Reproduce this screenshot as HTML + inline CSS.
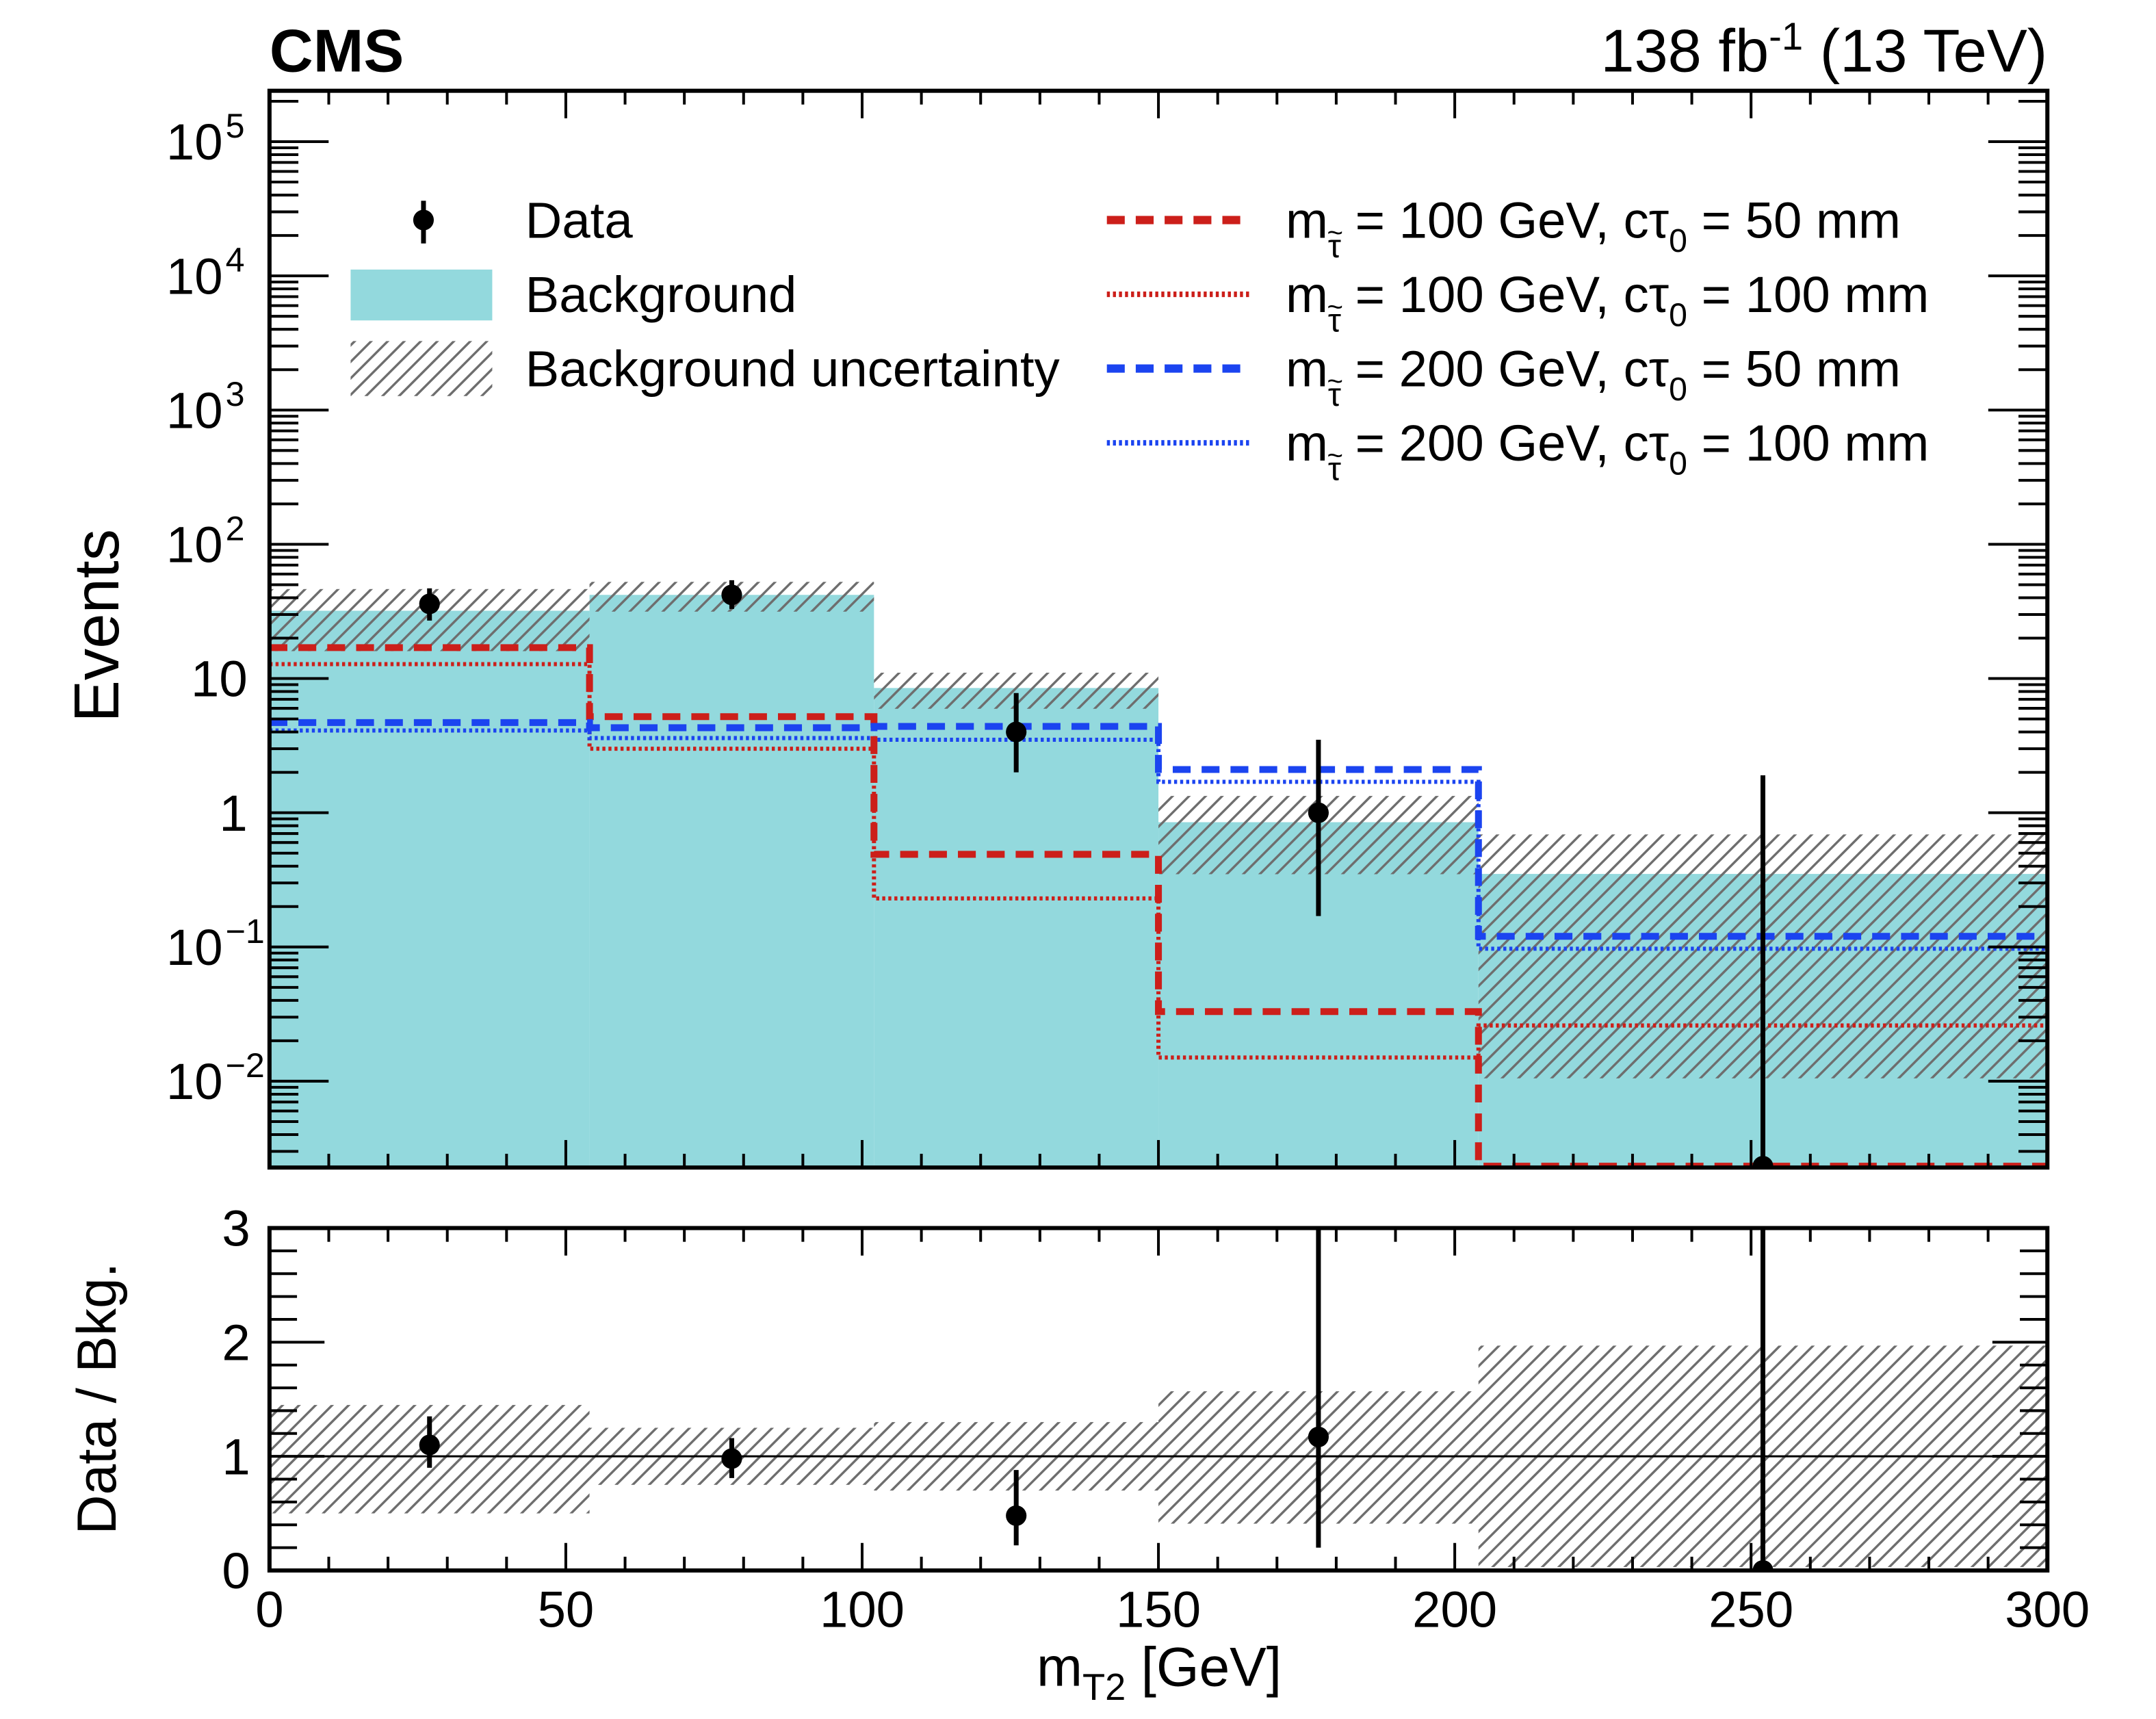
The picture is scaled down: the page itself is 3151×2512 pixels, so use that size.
<!DOCTYPE html>
<html><head><meta charset="utf-8"><style>
html,body{margin:0;padding:0;background:#fff;}
svg{display:block;font-family:"Liberation Sans",Arial,sans-serif;}
</style></head><body>
<svg id="chart" width="3151" height="2512" viewBox="0 0 1568 1250" xmlns="http://www.w3.org/2000/svg">
<defs>
<pattern id="hatch" patternUnits="userSpaceOnUse" width="8.5" height="8.5" patternTransform="rotate(45)">
<line x1="0" y1="0" x2="0" y2="8.5" stroke="#6e6e6e" stroke-width="3.4"/>
</pattern>
<clipPath id="clipMain"><rect x="196" y="66" width="1293" height="783"/></clipPath>
<clipPath id="clipRatio"><rect x="196" y="893" width="1293" height="249"/></clipPath>
</defs>
<g id="main" clip-path="url(#clipMain)"></g>
<g id="ratio" clip-path="url(#clipRatio)"></g>
<g id="axes"></g>
<g id="legend"></g>
<text x="196" y="52" font-size="44" font-weight="bold">CMS</text>
<text x="1489" y="52" font-size="44" text-anchor="end">138 fb<tspan dy="-16" font-size="28">-1</tspan><tspan dy="16"> (13 TeV)</tspan></text>
<text transform="translate(86,455) rotate(-90)" font-size="46" text-anchor="middle">Events</text>
<text transform="translate(84,1017) rotate(-90)" font-size="40" text-anchor="middle">Data / Bkg.</text>
<text x="843" y="1226" font-size="40" text-anchor="middle">m<tspan dy="10" font-size="27">T2</tspan><tspan dy="-10"> [GeV]</tspan></text>
</svg>
<script>
const binEdges = [0, 54, 102, 150, 204, 300];
const bkg = [32, 42, 8.5, 0.85, 0.35];
const uncLow = [0.5, 0.75, 0.7, 0.41, 0.03];
const uncHigh = [1.45, 1.25, 1.3, 1.57, 1.97];
const dataX = [27, 78, 126, 177, 252];
const dataY = [36, 42, 4, 1, 0];
const dataErrLo = [9, 9, 2, 0.83, 0];
const dataErrHi = [11, 12, 3.8, 2.5, 1.9];
const ratioY = [1.1, 0.98, 0.48, 1.17, 0];
const ratioErrLo = [0.2, 0.17, 0.26, 0.97, 0];
const ratioErrHi = [0.25, 0.18, 0.4, 3, 3];
const sigRed50 = [17, 5.2, 0.49, 0.033, 0.0001];
const sigRed100 = [12.8, 3.0, 0.23, 0.015, 0.026];
const sigBlue50 = [4.7, 4.3, 4.4, 2.1, 0.12];
const sigBlue100 = [4.1, 3.6, 3.5, 1.7, 0.097];
const xTicks = [0, 50, 100, 150, 200, 250, 300];
const ratioTicks = [0, 1, 2, 3];

const NS = "http://www.w3.org/2000/svg";
const X0 = 196, X1 = 1489, MY0 = 66, MY1 = 849, RY0 = 893, RY1 = 1142;
const yOne = 591, dec = 97.6;
const LOGMIN = Math.log10(0.0023);
function xs(v){ return X0 + (v - 0) / 300 * (X1 - X0); }
function ys(v){ let l = v > 0 ? Math.log10(v) : -10; l = Math.max(l, LOGMIN + 0.005); return yOne - l * dec; }
function yr(v){ return RY1 - v / 3 * (RY1 - RY0); }
function mk(tag, attrs, parent){ const e = document.createElementNS(NS, tag); for (const k in attrs) e.setAttribute(k, attrs[k]); parent.appendChild(e); return e; }
const main = document.getElementById('main'), ratio = document.getElementById('ratio'), axes = document.getElementById('axes'), legend = document.getElementById('legend');

for (let i = 0; i < bkg.length; i++) {
  const r = mk('rect', {x: xs(binEdges[i]), y: ys(bkg[i]), width: xs(binEdges[i+1]) - xs(binEdges[i]), height: MY1 - ys(bkg[i]) + 2, fill: '#93d9dd'}, main);
  
  
}
for (let i = 0; i < bkg.length; i++) {
  const hi = bkg[i] * uncHigh[i], lo = bkg[i] * uncLow[i];
  const r = mk('rect', {x: xs(binEdges[i]), y: ys(hi), width: xs(binEdges[i+1]) - xs(binEdges[i]), height: ys(lo) - ys(hi), fill: 'url(#hatch)'}, main);
  
  
  const r2 = mk('rect', {x: xs(binEdges[i]), y: yr(uncHigh[i]), width: xs(binEdges[i+1]) - xs(binEdges[i]), height: yr(uncLow[i]) - yr(uncHigh[i]), fill: 'url(#hatch)'}, ratio);
  
  
}
function stepPath(vals){
  let d = '';
  for (let i = 0; i < vals.length; i++) {
    const y = ys(vals[i]);
    d += (i === 0 ? 'M' : 'L') + xs(binEdges[i]) + ',' + y + ' L' + xs(binEdges[i+1]) + ',' + y + ' ';
  }
  return d;
}
const sigs = [
  [sigRed100, '#cc1f1a', 3, '2.2,2.2', 'signal-100gev-100mm'],
  [sigBlue100, '#1b44f0', 3, '2.2,2.2', 'signal-200gev-100mm'],
  [sigRed50, '#cc1f1a', 5, '13,8', 'signal-100gev-50mm'],
  [sigBlue50, '#1b44f0', 5, '13,8', 'signal-200gev-50mm']
];
for (const s of sigs) {
  const p = mk('path', {d: stepPath(s[0]), fill: 'none', stroke: s[1], 'stroke-width': s[2], 'stroke-dasharray': s[3]}, main);
  
  
}
for (let i = 0; i < dataX.length; i++) {
  const x = xs(dataX[i]);
  const g = mk('g', {}, main);
  
  
  const yc = ys(dataY[i]);
  const ylo = dataY[i] - dataErrLo[i] > 0 ? ys(dataY[i] - dataErrLo[i]) : MY1;
  mk('line', {x1: x, x2: x, y1: ys(dataY[i] + dataErrHi[i]), y2: ylo, stroke: '#000', 'stroke-width': 3.5}, g);
  mk('circle', {cx: x, cy: yc, r: 7.5, fill: '#000'}, g);
  const g2 = mk('g', {}, ratio);
  
  
  mk('line', {x1: x, x2: x, y1: yr(ratioY[i] + ratioErrHi[i]), y2: yr(Math.max(0, ratioY[i] - ratioErrLo[i])), stroke: '#000', 'stroke-width': 3.5}, g2);
  mk('circle', {cx: x, cy: yr(ratioY[i]), r: 7.5, fill: '#000'}, g2);
}
const ref = mk('line', {x1: X0, x2: X1, y1: yr(1), y2: yr(1), stroke: '#000', 'stroke-width': 1.5}, ratio);



const f1 = mk('rect', {x: X0, y: MY0, width: X1 - X0, height: MY1 - MY0, fill: 'none', stroke: '#000', 'stroke-width': 3}, axes);


const f2 = mk('rect', {x: X0, y: RY0, width: X1 - X0, height: RY1 - RY0, fill: 'none', stroke: '#000', 'stroke-width': 3}, axes);


for (let v = 0; v <= 300; v += 10) {
  const x = xs(v), major = v % 50 === 0, L = major ? 20 : 10;
  for (const [yb, yt] of [[MY1, MY0], [RY1, RY0]]) {
    mk('line', {x1: x, x2: x, y1: yb, y2: yb - L, stroke: '#000', 'stroke-width': 2}, axes);
    mk('line', {x1: x, x2: x, y1: yt, y2: yt + L, stroke: '#000', 'stroke-width': 2}, axes);
  }
}
for (const v of xTicks) {
  const t = mk('text', {x: xs(v), y: 1183, 'font-size': 37, 'text-anchor': 'middle'}, axes);
  
  
  t.textContent = String(v);
}
for (let e = -3; e <= 5; e++) {
  for (let m = 1; m <= 9; m++) {
    const v = m * Math.pow(10, e), y = yOne - Math.log10(v) * dec;
    if (y < MY0 || y > MY1) continue;
    const L = m === 1 ? 43 : 21;
    mk('line', {x1: X0, x2: X0 + L, y1: y, y2: y, stroke: '#000', 'stroke-width': 2}, axes);
    mk('line', {x1: X1, x2: X1 - L, y1: y, y2: y, stroke: '#000', 'stroke-width': 2}, axes);
  }
}
const yLabels = [[5,'10','5'],[4,'10','4'],[3,'10','3'],[2,'10','2'],[1,'10',''],[0,'1',''],[-1,'10','\u22121'],[-2,'10','\u22122']];
for (const [e, base, sup] of yLabels) {
  const y = yOne - e * dec + 13;
  const t = mk('text', {x: sup ? 162 : 180, y: y, 'font-size': 37, 'text-anchor': 'end'}, axes);
  
  
  t.textContent = base;
  if (sup) {
    const s = mk('text', {x: 164, y: y - 16, 'font-size': 25}, axes);
    
    
    s.textContent = sup;
  }
}
for (let v = 0; v <= 3.001; v += 0.2) {
  const y = yr(v), major = Math.abs(v - Math.round(v)) < 0.01, L = major ? 40 : 20;
  mk('line', {x1: X0, x2: X0 + L, y1: y, y2: y, stroke: '#000', 'stroke-width': 2}, axes);
  mk('line', {x1: X1, x2: X1 - L, y1: y, y2: y, stroke: '#000', 'stroke-width': 2}, axes);
}
for (const v of ratioTicks) {
  const t = mk('text', {x: 182, y: yr(v) + 13, 'font-size': 37, 'text-anchor': 'end'}, axes);
  
  
  t.textContent = String(v);
}
let g = mk('g', {}, legend);


mk('line', {x1: 308, x2: 308, y1: 146, y2: 177, stroke: '#000', 'stroke-width': 3.5}, g);
mk('circle', {cx: 308, cy: 160, r: 7.5}, g);
mk('text', {x: 382, y: 173, 'font-size': 37}, g).textContent = 'Data';
g = mk('g', {}, legend);


mk('rect', {x: 255, y: 196, width: 103, height: 37, fill: '#93d9dd'}, g);
mk('text', {x: 382, y: 227, 'font-size': 37}, g).textContent = 'Background';
g = mk('g', {}, legend);


mk('rect', {x: 255, y: 248, width: 103, height: 40, fill: 'url(#hatch)'}, g);
mk('text', {x: 382, y: 281, 'font-size': 37}, g).textContent = 'Background uncertainty';
const legSig = [
  ['#cc1f1a', 6, '13,8', '100', '50', 'legend-signal-100gev-50mm'],
  ['#cc1f1a', 4, '2.2,2.2', '100', '100', 'legend-signal-100gev-100mm'],
  ['#1b44f0', 6, '13,8', '200', '50', 'legend-signal-200gev-50mm'],
  ['#1b44f0', 4, '2.2,2.2', '200', '100', 'legend-signal-200gev-100mm']
];
legSig.forEach((s, i) => {
  const y = 160 + i * 54;
  const gg = mk('g', {}, legend);
  
  
  mk('line', {x1: 805, x2: 910, y1: y, y2: y, stroke: s[0], 'stroke-width': s[1], 'stroke-dasharray': s[2]}, gg);
  const t = mk('text', {x: 935, y: y + 13, 'font-size': 37}, gg);
  t.innerHTML = 'm<tspan dy="14" font-size="24">\u03C4</tspan><tspan dy="-14"> = ' + s[3] + ' GeV, c\u03C4</tspan><tspan dy="10" font-size="24">0</tspan><tspan dy="-10"> = ' + s[4] + ' mm</tspan>';
  const tl = mk('text', {x: 971, y: y + 16, 'font-size': 20, 'text-anchor': 'middle'}, gg);
  tl.textContent = '~';
});
</script>
</body></html>
